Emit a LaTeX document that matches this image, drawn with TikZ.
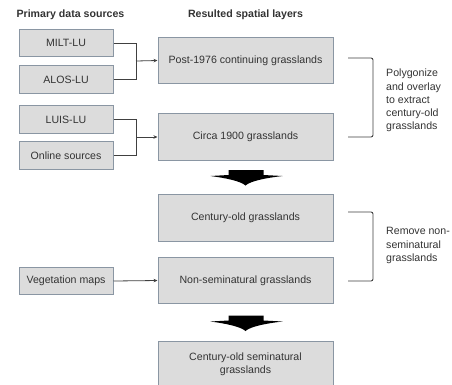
\documentclass[tikz,border=0pt]{standalone}
\usepackage{fontspec}
\setmainfont{Liberation Sans}
\usetikzlibrary{calc,arrows.meta}
\definecolor{boxfill}{HTML}{DCDCDC}
\definecolor{boxline}{HTML}{8A96A3}
\definecolor{ink}{HTML}{333333}
\definecolor{wire}{HTML}{404040}
\begin{document}
\begin{tikzpicture}[x=1pt,y=-1pt,
  every node/.style={font=\fontsize{10.6}{13.2}\selectfont, text=ink},
  srcbox/.style={draw=boxline, fill=boxfill, line width=1pt, minimum width=94pt, minimum height=27.5pt, inner sep=0pt},
  layerbox/.style={draw=boxline, fill=boxfill, line width=1pt, minimum width=175pt, minimum height=46.5pt, inner sep=0pt, align=center},
  header/.style={font=\fontsize{10.6}{13.2}\selectfont\bfseries},
  note/.style={anchor=west, align=left, inner sep=0pt},
  wirel/.style={draw=wire, line width=0.8pt},
  link/.style={wirel, -{Stealth[length=4pt,width=3.5pt]}},
  bracket/.style={draw=wire, line width=0.9pt, rounded corners=2pt},
  pics/blockarrow/.style={code={
    \fill[black] (-17,-7.5) -- (18,-7.5) -- (18,-2.5) -- (37,-1.5)
      .. controls (20,0.5) and (5,3.5) .. (0,8)
      .. controls (-5,3.5) and (-20,0.5) .. (-35,-1.5)
      -- (-17,-2.5) -- cycle;
  }}]
\useasboundingbox (0,0) rectangle (452,384);
\fill[white] (0,0) rectangle (452,384);

% column headings
\node[header] (hsrc) at (70.5,15) {Primary data sources};
\node[header] (hlay) at (245.5,15) {Resulted spatial layers};

% primary data sources
\node[srcbox] (milt)   at (66,43)    {MILT-LU};
\node[srcbox] (alos)   at (66,79.5)  {ALOS-LU};
\node[srcbox] (luis)   at (66,119.5) {LUIS-LU};
\node[srcbox] (online) at (66,155.5) {Online sources};
\node[srcbox] (veg)    at (66,281)   {Vegetation maps};

% resulting spatial layers
\node[layerbox] (post)    at (245.5,60.5)  {Post-1976 continuing grasslands};
\node[layerbox] (circa)   at (245.5,137)   {Circa 1900 grasslands};
\node[layerbox] (century) at (245.5,218)   {Century-old grasslands};
\node[layerbox] (nonsemi) at (245.5,280.5) {Non-seminatural grasslands};
\node[layerbox] (final)   at (245.5,364.5) {Century-old seminatural\\grasslands};

% merging connectors
\coordinate (j1) at (136,61);
\coordinate (j2) at (136,137);
\draw[wirel] (milt.east) -| (j1);
\draw[wirel] (alos.east) -| (j1);
\draw[link] (j1) -- (post.west);
\draw[wirel] (luis.east) -| (j2);
\draw[wirel] (online.east) -| (j2);
\draw[link] (j2) -- (circa.west);
\draw[link] (veg.east) -- (nonsemi.west);

% processing steps
\draw[bracket] (348,58) -- (373,58) -- (373,137) -- (348,137);
\node[note] (poly) at (386,100.5) {Polygonize\\and overlay\\to extract\\century-old\\grasslands};
\draw[bracket] (348,212) -- (373,212) -- (373,281) -- (348,281);
\node[note] (remove) at (386,245.5) {Remove non-\\seminatural\\grasslands};

% flow arrows between stages
\pic at (245.5,177.5) {blockarrow};
\pic at (245.5,323) {blockarrow};
\end{tikzpicture}
\end{document}
